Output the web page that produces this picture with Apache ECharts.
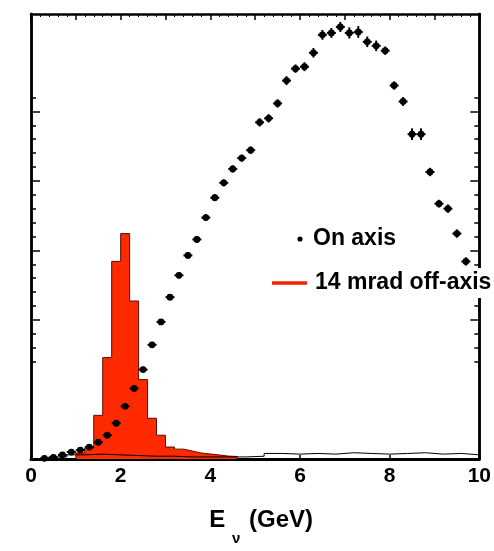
<!DOCTYPE html>
<html>
<head>
<meta charset="utf-8">
<script src="https://cdn.jsdelivr.net/npm/echarts@6/dist/echarts.min.js"></script>
<style>
html,body{margin:0;padding:0;background:#fff;}
#chart{width:494px;height:551px;}
</style>
</head>
<body>
<div id="chart"></div>
<script>
// ---- Data (arbitrary flux units) ----
const xTickLabels = ['0', '2', '4', '6', '8', '10'];
// On-axis beam: bin centres (GeV), flux, error
const onAxisEnergy = [0.3,0.5,0.7,0.9,1.1,1.3,1.5,1.7,1.9,2.1,2.3,2.5,2.7,2.9,3.1,3.3,3.5,3.7,3.9,4.1,4.3,4.5,4.7,4.9,5.1,5.3,5.5,5.7,5.9,6.1,6.3,6.5,6.7,6.9,7.1,7.3,7.5,7.7,7.9,8.1,8.3,8.5,8.7,8.9,9.1,9.3,9.5,9.7];
const onAxisFlux = [0.05,0.12,0.29,0.5,0.64,0.86,1.21,1.71,2.57,3.79,5.07,6.43,8.21,9.86,11.64,13.21,14.64,15.79,17.36,18.79,19.86,20.86,21.64,22.21,24.21,24.5,25.57,27.21,28.07,28.21,29.21,30.5,30.64,31.07,30.64,30.71,30.0,29.71,29.36,26.86,25.71,23.36,23.36,20.64,18.36,18.0,16.21,14.21];
const onAxisErr = [0.05,0.05,0.08,0.1,0.1,0.1,0.12,0.12,0.15,0.15,0.18,0.2,0.2,0.2,0.22,0.22,0.22,0.24,0.24,0.25,0.25,0.26,0.26,0.27,0.3,0.3,0.3,0.32,0.3,0.32,0.34,0.35,0.35,0.36,0.4,0.42,0.38,0.38,0.3,0.3,0.32,0.42,0.42,0.3,0.28,0.3,0.3,0.3];
const onAxisHalfBin = 0.1;
// 14 mrad off-axis beam: bin edges (GeV) and flux per bin
const offAxisEdges = [1.0,1.2,1.4,1.6,1.8,2.0,2.2,2.4,2.6,2.8,3.0,3.2,3.4,3.6,3.8,4.0,4.2,4.4,4.6];
const offAxisFlux = [0.43,0.79,3.14,7.29,14.21,16.21,11.36,5.71,2.93,1.71,0.86,0.71,0.57,0.43,0.36,0.29,0.21,0.18];
// faint black histogram lying on the baseline
const baseEdges = [0.4,0.8,1.2,1.6,2.0,2.4,2.8,3.2,3.6,4.0,4.4,4.8,5.2,5.6,6.0,6.4,6.8,7.2,7.6,8.0,8.4,8.8,9.2,9.6,10.0];
const baseFlux = [0.15,0.3,0.35,0.3,0.25,0.2,0.2,0.15,0.15,0.15,0.15,0.2,0.4,0.35,0.4,0.35,0.45,0.4,0.35,0.4,0.45,0.35,0.4,0.3];
// y-axis tick positions (no labels on the original)
const yMajorTicks = [10, 15, 20, 25];
const yMinorTicks = [7,8,9,11,12,13,14,16,17,18,19,21,22,23,24,26];
const legendOnAxis = 'On axis';
const legendOffAxis = '14 mrad off-axis';

// ---- Build series data ----
function stepData(edges, vals) {
  const d = [[edges[0], 0]];
  for (let i = 0; i < vals.length; i++) d.push([edges[i], vals[i]]);
  d.push([edges[edges.length - 1], vals[vals.length - 1]]);
  d.push([edges[edges.length - 1], 0]);
  return d;
}
const pointData = onAxisEnergy.map((e, i) => [e, onAxisFlux[i], onAxisErr[i]]);

const FONT = '"Liberation Sans", Arial, Helvetica, sans-serif';
const chart = echarts.init(document.getElementById('chart'), null, {renderer: 'canvas'});

function yAxisDef(pos, ticks, len) {
  return {
    type: 'value', position: pos, min: 0, max: 32,
    axisLine: {show: true, onZero: false, lineStyle: {color: '#000', width: 2.5}},
    axisTick: {show: true, inside: true, length: len, customValues: ticks, lineStyle: {color: '#000', width: 1.5}},
    axisLabel: {show: false},
    splitLine: {show: false}
  };
}

const option = {
  backgroundColor: '#fff',
  animation: false,
  grid: {left: 31, right: 14, top: 14, bottom: 89},
  xAxis: [
    {
      type: 'value', position: 'bottom', min: 0, max: 10, interval: 2,
      axisLine: {show: true, onZero: false, lineStyle: {color: '#000', width: 3}},
      axisTick: {show: true, inside: true, length: 4, lineStyle: {color: '#000', width: 1.5}},
      axisLabel: {
        color: '#000', fontFamily: FONT, fontWeight: 'bold', fontSize: 21, margin: 7,
        formatter: function (v) { const i = Math.round(v / 2); return xTickLabels[i] !== undefined ? xTickLabels[i] : ''; }
      },
      splitLine: {show: false},
      name: '{e|E }{sub|ν}{e| (GeV)}',
      nameLocation: 'middle', nameGap: 48,
      nameTextStyle: {
        padding: [0, 0, 0, 12],
        rich: {
          e: {fontFamily: FONT, fontWeight: 'bold', fontSize: 24, color: '#000', lineHeight: 26},
          sub: {fontFamily: FONT, fontWeight: 'bold', fontSize: 15, color: '#000', lineHeight: 14, verticalAlign: 'top', padding: [24, 2, 0, 0]}
        }
      }
    },
    {
      type: 'value', position: 'top', min: 0, max: 10, interval: 1,
      axisLine: {show: true, onZero: false, lineStyle: {color: '#000', width: 2.5}},
      axisTick: {show: true, inside: true, length: 6, lineStyle: {color: '#000', width: 1.5}},
      minorTick: {show: true, splitNumber: 5, length: 3, lineStyle: {color: '#000', width: 1}},
      axisLabel: {show: false},
      splitLine: {show: false}
    }
  ],
  yAxis: [
    yAxisDef('left', yMajorTicks, 9),
    yAxisDef('left', yMinorTicks, 5),
    yAxisDef('right', yMajorTicks, 9),
    yAxisDef('right', yMinorTicks, 5)
  ],
  series: [
    {
      name: legendOffAxis, type: 'line', step: 'end', data: stepData(offAxisEdges, offAxisFlux),
      symbol: 'none', xAxisIndex: 0, yAxisIndex: 0,
      lineStyle: {color: '#5a0a00', width: 1},
      areaStyle: {color: '#ff2a00', opacity: 1},
      z: 2
    },
    {
      name: 'baseline', type: 'line', step: 'end', data: stepData(baseEdges, baseFlux),
      symbol: 'none', xAxisIndex: 0, yAxisIndex: 0,
      lineStyle: {color: '#000', width: 1},
      z: 3
    },
    {
      name: legendOnAxis, type: 'custom', data: pointData, xAxisIndex: 0, yAxisIndex: 0, z: 4,
      encode: {x: 0, y: 1},
      renderItem: function (params, api) {
        const x = api.value(0), y = api.value(1), e = api.value(2);
        const c = api.coord([x, y]);
        const l = api.coord([x - onAxisHalfBin, y]);
        const r = api.coord([x + onAxisHalfBin, y]);
        const t = api.coord([x, y + e]);
        const b = api.coord([x, y - e]);
        return {
          type: 'group',
          children: [
            {type: 'line', shape: {x1: l[0], y1: c[1], x2: r[0], y2: c[1]}, style: {stroke: '#000', lineWidth: 2}},
            {type: 'line', shape: {x1: c[0], y1: t[1], x2: c[0], y2: b[1]}, style: {stroke: '#000', lineWidth: 2}},
            {type: 'circle', shape: {cx: c[0], cy: c[1], r: 3.4}, style: {fill: '#000'}}
          ]
        };
      }
    }
  ],
  graphic: [
    {type: 'rect', shape: {x: 268, y: 268, width: 226, height: 30}, style: {fill: '#fff'}, z: 50},
    {type: 'circle', shape: {cx: 300, cy: 239, r: 2.6}, style: {fill: '#000'}, z: 51},
    {type: 'text', x: 313, y: 239, style: {text: legendOnAxis, font: 'bold 23px ' + FONT, fill: '#000', verticalAlign: 'middle'}, z: 51},
    {type: 'line', shape: {x1: 272, y1: 283, x2: 307, y2: 283}, style: {stroke: '#ee2200', lineWidth: 3.5}, z: 51},
    {type: 'text', x: 315, y: 283, style: {text: legendOffAxis, font: 'bold 23px ' + FONT, fill: '#000', verticalAlign: 'middle'}, z: 51}
  ]
};
chart.setOption(option);
</script>
</body>
</html>
